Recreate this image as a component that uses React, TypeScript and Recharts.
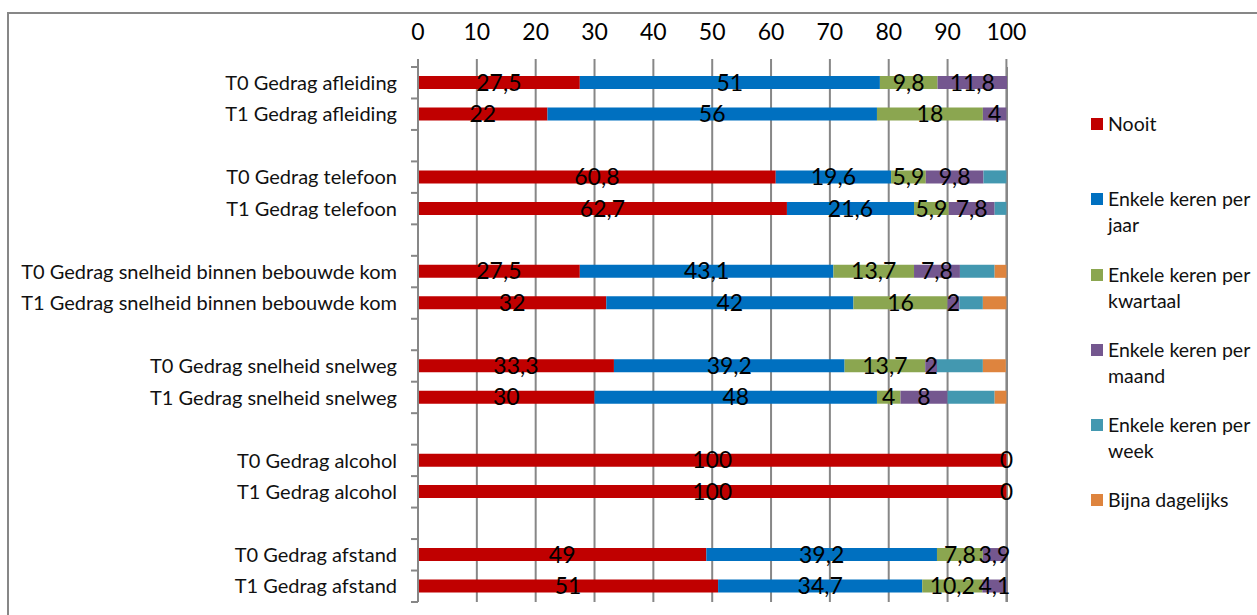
import { Bar, BarChart, CartesianGrid, LabelList, Legend, XAxis, YAxis } from 'recharts';

const CATEGORIES = [
  'T0 Gedrag afleiding',
  'T1 Gedrag afleiding',
  '',
  'T0 Gedrag telefoon',
  'T1 Gedrag telefoon',
  '',
  'T0 Gedrag snelheid binnen bebouwde kom',
  'T1 Gedrag snelheid binnen bebouwde kom',
  '',
  'T0 Gedrag snelheid snelweg',
  'T1 Gedrag snelheid snelweg',
  '',
  'T0 Gedrag alcohol',
  'T1 Gedrag alcohol',
  '',
  'T0 Gedrag afstand',
  'T1 Gedrag afstand',
];

const NOOIT = [27.5, 22, null, 60.8, 62.7, null, 27.5, 32, null, 33.3, 30, null, 100, 100, null, 49, 51];
const PER_JAAR = [51, 56, null, 19.6, 21.6, null, 43.1, 42, null, 39.2, 48, null, 0, 0, null, 39.2, 34.7];
const PER_KWARTAAL = [9.8, 18, null, 5.9, 5.9, null, 13.7, 16, null, 13.7, 4, null, null, null, null, 7.8, 10.2];
const PER_MAAND = [11.8, 4, null, 9.8, 7.8, null, 7.8, 2, null, 2, 8, null, null, null, null, 3.9, 4.1];
const PER_WEEK = [null, null, null, 3.9, 2, null, 5.9, 4, null, 7.8, 8, null, null, null, null, null, null];
const DAGELIJKS = [null, null, null, null, null, null, 2, 4, null, 3.9, 2, null, null, null, null, null, null];

const SERIES_NAMES = [
  'Nooit',
  'Enkele keren per jaar',
  'Enkele keren per kwartaal',
  'Enkele keren per maand',
  'Enkele keren per week',
  'Bijna dagelijks',
];
const SERIES_KEYS = ['nooit', 'jaar', 'kwartaal', 'maand', 'week', 'dagelijks'];
const SERIES_VALUES = [NOOIT, PER_JAAR, PER_KWARTAAL, PER_MAAND, PER_WEEK, DAGELIJKS];
const COLORS = ['#C00000', '#0070C0', '#8BA650', '#74578F', '#4398B0', '#DE843E'];
// only the first four series carry value labels
const LABELLED = [true, true, true, true, false, false];

const X_TICKS = [0, 10, 20, 30, 40, 50, 60, 70, 80, 90, 100];

const FONT = 'Lato, "Open Sans", sans-serif';
const GRID = '#878787';

const WIDTH = 1257;
const HEIGHT = 615;
const MARGIN = { top: 27, right: 250, bottom: 13, left: 8 };
const X_AXIS_H = 40;
const Y_AXIS_W = 410;
const BAND = (HEIGHT - MARGIN.top - X_AXIS_H - MARGIN.bottom) / CATEGORIES.length;

const rows = CATEGORIES.map((name, i) => {
  const row: Record<string, string | number | null> = { name };
  SERIES_KEYS.forEach((key, s) => {
    row[key] = SERIES_VALUES[s][i];
  });
  return row;
});

const commaFormat = (v: unknown) => (v == null ? '' : String(v).replace('.', ','));

// a zero value still gets a hair-thin bar, so its "0" label is drawn
const keepZero = (values: (number | null)[]) => (_: unknown, i: number) =>
  values[i] === 0 ? 0.01 : 0;

// category label plus Excel-style tick marks between categories
function CategoryTick(props: any) {
  const { x, y, payload, index } = props;
  const axisX = x + 21;
  const mark = (yy: number) => (
    <line x1={axisX - 7} x2={axisX} y1={yy} y2={yy} stroke={GRID} strokeWidth={2} />
  );
  return (
    <g>
      <text x={x} y={y} dy="0.36em" textAnchor="end" fill="#111" fontSize={20} fontFamily={FONT}>
        {payload.value}
      </text>
      {index === 0 && mark(y - BAND / 2)}
      {mark(y + BAND / 2)}
    </g>
  );
}

function LegendContent(props: any) {
  const { payload = [] } = props;
  const items = [...payload].sort(
    (a: any, b: any) => SERIES_NAMES.indexOf(a.value) - SERIES_NAMES.indexOf(b.value),
  );
  return (
    <div style={{ fontFamily: FONT, fontSize: 19.5, color: '#111' }}>
      {items.map((p: any) => (
        <div key={p.value} style={{ height: 75.3, display: 'flex', alignItems: 'flex-start' }}>
          <span
            style={{ width: 12, height: 12, background: p.color, marginTop: 7, flex: 'none' }}
          />
          <span style={{ marginLeft: 5, lineHeight: '26px', width: 152 }}>{p.value}</span>
        </div>
      ))}
    </div>
  );
}

export default function App() {
  return (
    <div
      style={{
        position: 'absolute',
        left: 0,
        top: 0,
        width: WIDTH,
        height: HEIGHT,
        overflow: 'hidden',
        background: '#fff',
      }}
    >
      <div
        style={{
          position: 'absolute',
          left: 7,
          top: 12,
          right: -10,
          bottom: -10,
          borderTop: `2px solid ${GRID}`,
          borderLeft: `2px solid ${GRID}`,
        }}
      />
      <div style={{ position: 'absolute', left: 0, top: 0 }}>
        <BarChart width={WIDTH} height={HEIGHT} data={rows} layout="vertical" margin={MARGIN}>
          <CartesianGrid horizontal={false} stroke={GRID} strokeWidth={2} />
          <XAxis
            type="number"
            orientation="top"
            domain={[0, 100]}
            ticks={X_TICKS}
            height={X_AXIS_H}
            axisLine={false}
            tickLine={{ stroke: GRID, strokeWidth: 2 }}
            tickSize={8}
            tickMargin={19}
            tick={{ fill: '#000', fontSize: 23, fontFamily: FONT }}
          />
          <YAxis
            type="category"
            dataKey="name"
            width={Y_AXIS_W}
            interval={0}
            axisLine={{ stroke: GRID, strokeWidth: 2 }}
            tickLine={false}
            tickSize={0}
            tickMargin={21}
            tick={<CategoryTick />}
          />
          <Legend
            layout="vertical"
            align="center"
            verticalAlign="middle"
            wrapperStyle={{ left: 1091, top: 111, width: 170 }}
            content={<LegendContent />}
          />
          {SERIES_KEYS.map((key, s) => (
            <Bar
              key={key}
              dataKey={key}
              name={SERIES_NAMES[s]}
              stackId="a"
              fill={COLORS[s]}
              barSize={13}
              minPointSize={LABELLED[s] ? keepZero(SERIES_VALUES[s]) : 0}
              isAnimationActive={false}
            >
              {LABELLED[s] && (
                <LabelList
                  dataKey={key}
                  position="center"
                  formatter={commaFormat}
                  fill="#000"
                  fontSize={23}
                  fontFamily={FONT}
                />
              )}
            </Bar>
          ))}
        </BarChart>
      </div>
    </div>
  );
}
